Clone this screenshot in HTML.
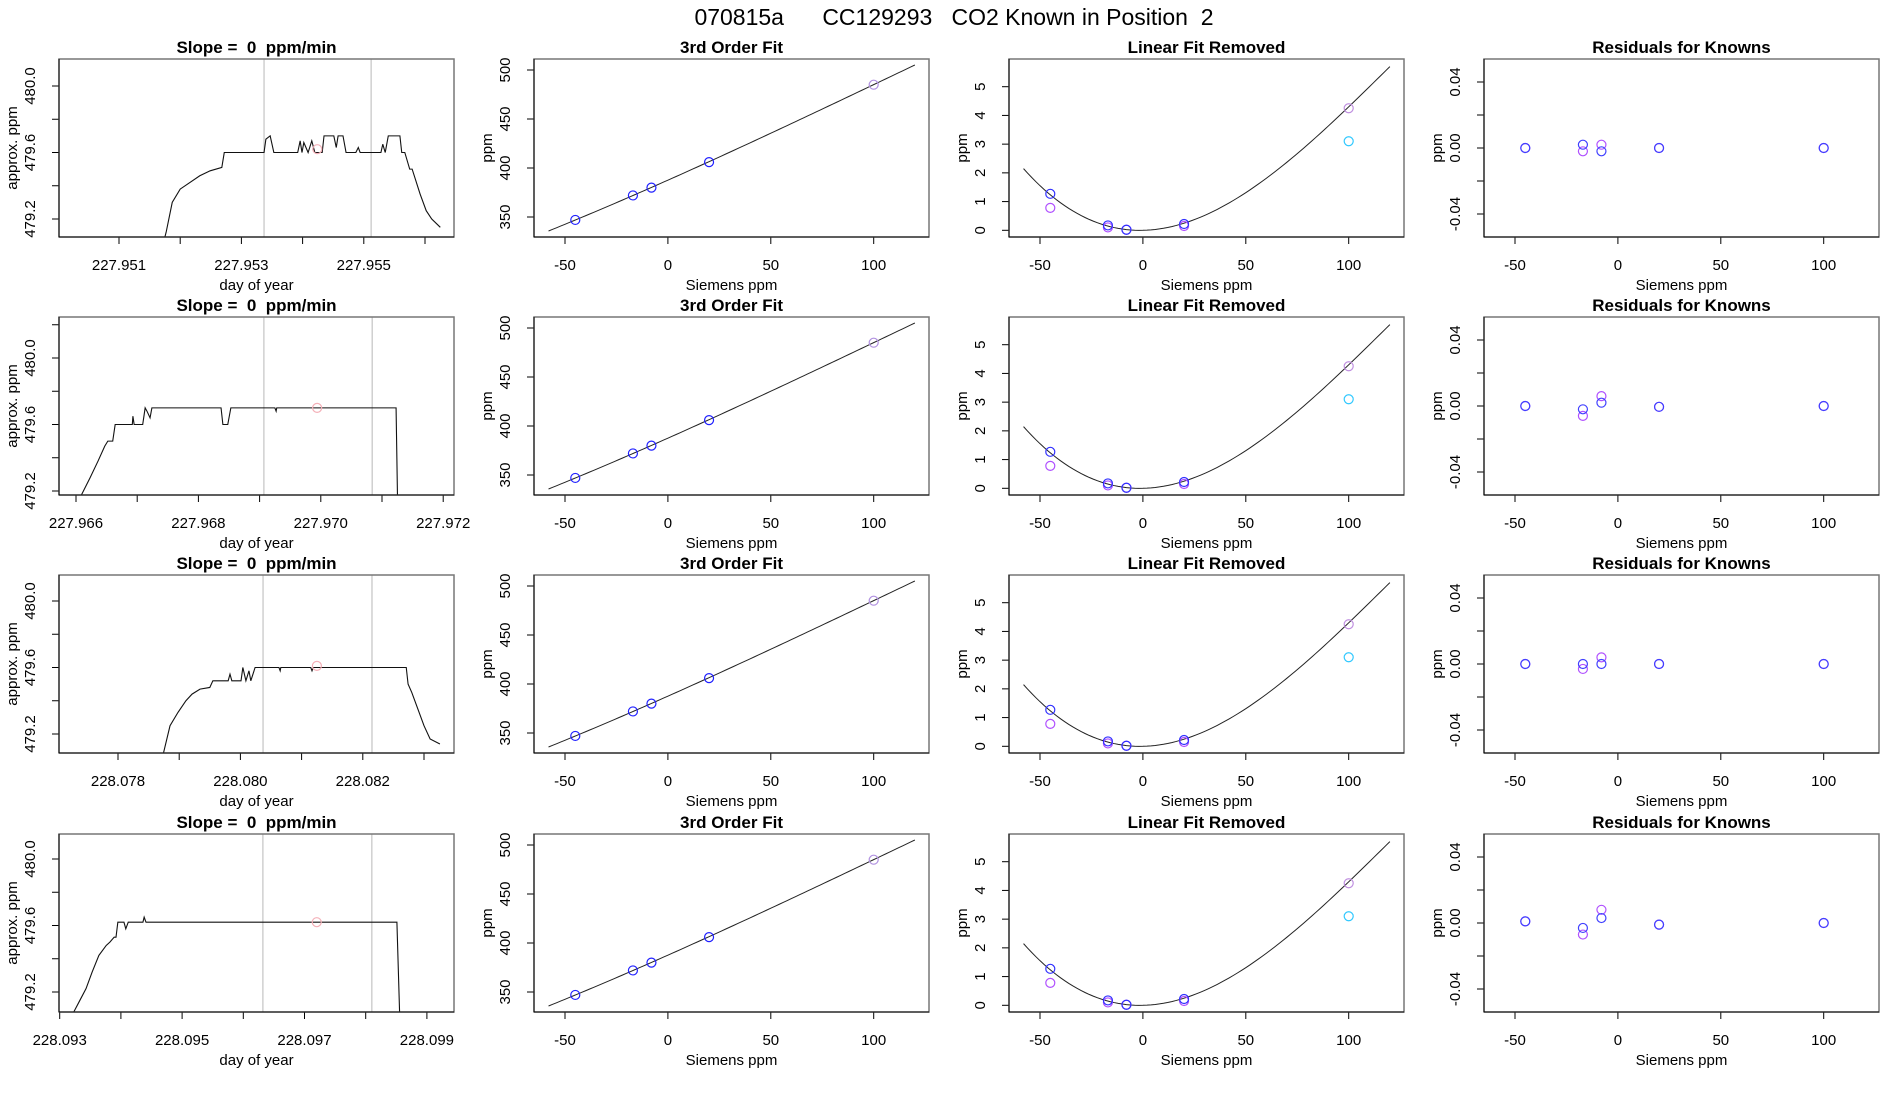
<!DOCTYPE html>
<html><head><meta charset="utf-8"><style>
html,body{margin:0;padding:0;background:#fff;}
svg{display:block;font-family:"Liberation Sans",sans-serif;}
svg text{white-space:pre;}
</style></head><body>
<svg id="chart" width="1900" height="1100" viewBox="0 0 1900 1100" xmlns="http://www.w3.org/2000/svg" xml:space="preserve">
<rect width="1900" height="1100" fill="#fff"/>
<text x="954" y="25" font-size="23" text-anchor="middle" fill="#000">070815a      CC129293   CO2 Known in Position  2</text>
</svg>
<script>
// ---- time-series data (per row) ----
const tsTimes1=[227.95172,227.95177,227.95187,227.95200,227.95216,227.95232,227.95249,227.95268,227.95272,227.95337,227.95340,227.95347,227.95353,227.95392,227.95396,227.95399,227.95402,227.95409,227.95415,227.95420,227.95432,227.95435,227.95451,227.95455,227.95458,227.95466,227.95471,227.95487,227.95491,227.95494,227.95528,227.95531,227.95535,227.95540,227.95559,227.95562,227.95567,227.95575,227.95579,227.95592,227.95602,227.95611,227.95625];
const tsVals1=[479.05,479.12,479.3,479.38,479.42,479.46,479.49,479.51,479.6,479.6,479.68,479.7,479.6,479.6,479.67,479.6,479.66,479.6,479.67,479.6,479.6,479.7,479.7,479.63,479.7,479.7,479.6,479.6,479.63,479.6,479.6,479.65,479.6,479.7,479.7,479.6,479.6,479.5,479.5,479.35,479.25,479.2,479.15];
const tsTimes2=[227.96605,227.96608,227.96623,227.96636,227.96647,227.96652,227.96660,227.96664,227.96692,227.96693,227.96695,227.96709,227.96713,227.96716,227.96721,227.96724,227.96837,227.96840,227.96848,227.96853,227.96925,227.96927,227.96928,227.97123,227.97126];
const tsVals2=[479.1,479.17,479.28,479.38,479.47,479.5,479.5,479.6,479.6,479.65,479.6,479.6,479.7,479.68,479.64,479.7,479.7,479.6,479.6,479.7,479.7,479.68,479.7,479.7,479.0];
const tsTimes3=[228.07872,228.07885,228.07898,228.07911,228.07921,228.07934,228.07950,228.07955,228.07980,228.07983,228.07986,228.08001,228.08004,228.08009,228.08014,228.08017,228.08024,228.08063,228.08065,228.08066,228.08115,228.08117,228.08119,228.08271,228.08274,228.08280,228.08290,228.08300,228.08310,228.08326];
const tsVals3=[479.05,479.25,479.33,479.4,479.44,479.47,479.48,479.52,479.52,479.56,479.52,479.52,479.6,479.52,479.58,479.52,479.6,479.6,479.58,479.6,479.6,479.58,479.6,479.6,479.5,479.45,479.35,479.25,479.17,479.14];
const tsTimes4=[228.09323,228.09333,228.09343,228.09353,228.09364,228.09376,228.09382,228.09389,228.09392,228.09395,228.09405,228.09408,228.09412,228.09436,228.09438,228.09441,228.09851,228.09856];
const tsVals4=[479.08,479.15,479.22,479.32,479.42,479.48,479.5,479.53,479.53,479.62,479.62,479.58,479.62,479.62,479.65,479.62,479.62,479.0];
const tsXTicks1=[227.951,227.953,227.955];
const tsXTicks2=[227.966,227.968,227.970,227.972];
const tsXTicks3=[228.078,228.080,228.082];
const tsXTicks4=[228.093,228.095,228.097,228.099];
const tsVLines1=[227.95337,227.95512];
const tsVLines2=[227.96907,227.97084];
const tsVLines3=[228.08037,228.08215];
const tsVLines4=[228.09632,228.09810];
const tsMarkT=[227.95424,227.96994,228.08125,228.0972];
const tsMarkV=[479.62,479.7,479.61,479.62];
const tsYTicks=[479.0,479.2,479.4,479.6,479.8,480.0,480.2,480.4];
// ---- calibration data ----
const knownX=[-45,-17,-8,20];
const knownPpm=[347,372,380,406];
const highX=[100];
const highPpm=[485];
const linX=[-45,-17,-8,20,100];
const linBlue=[1.27,0.17,0.02,0.22,null];
const linPurple=[0.78,0.10,0.02,0.15,4.25];
const linCyanX=[100];
const linCyan=[3.1];
const fitLinear=[387.6,0.9317];
const fitResidCoef=[0,0.00153,0.000573,-0.000001583];
const resX=[-45,-17,-8,20,100];
const resBlue1=[0,0.002,-0.002,0,0];
const resPurple1=[0,-0.002,0.002,0,0];
const resBlue2=[0,-0.002,0.002,-0.0005,0];
const resPurple2=[0,-0.006,0.006,-0.0005,0];
const resBlue3=[0,0,0,0,0];
const resPurple3=[0,-0.003,0.004,0,0];
const resBlue4=[0.001,-0.003,0.003,-0.001,0];
const resPurple4=[0.001,-0.007,0.008,-0.001,0];
const xTicksS=[-50,0,50,100];
const yTicksFit=[350,400,450,500];
const yTicksLin=[0,1,2,3,4,5];
const yTicksRes=[-0.04,-0.02,0,0.02,0.04];
const yLabelsRes=["-0.04","","0.00","","0.04"];

const NS="http://www.w3.org/2000/svg";
const svg=document.getElementById('chart');
function mk(tag,attrs,parent){const e=document.createElementNS(NS,tag);for(const k in attrs)e.setAttribute(k,attrs[k]);(parent||svg).appendChild(e);return e;}
const TOPS=[59,317,575,834];const W=395,H=178;
const tsAxis=[{t0:227.951,p0:119,v0:86},{t0:227.966,p0:76,v0:358},{t0:228.078,p0:118,v0:601},{t0:228.093,p0:59.7,v0:859}];
const tsTimes=[tsTimes1,tsTimes2,tsTimes3,tsTimes4],tsVals=[tsVals1,tsVals2,tsVals3,tsVals4];
const tsXT=[tsXTicks1,tsXTicks2,tsXTicks3,tsXTicks4],tsVL=[tsVLines1,tsVLines2,tsVLines3,tsVLines4];
const resB=[resBlue1,resBlue2,resBlue3,resBlue4],resP=[resPurple1,resPurple2,resPurple3,resPurple4];
const titles=["Slope =  0  ppm/min","3rd Order Fit","Linear Fit Removed","Residuals for Knowns"];

function panel(row,col,xs,ys,xdom,ydom,opts){
  const L=59+col*475,T=TOPS[row];
  const g=mk('g',{});
  
  
  const clipId='c'+row+col;
  const cp=mk('clipPath',{id:clipId},g);mk('rect',{x:L,y:T,width:W,height:H},cp);
  const sx=v=>L+(v-xdom[0])/(xdom[1]-xdom[0])*W;
  const sy=v=>T+H-(v-ydom[0])/(ydom[1]-ydom[0])*H;
  const t=mk('text',{x:L+W/2,y:T-6,'font-size':17,'font-weight':'bold','text-anchor':'middle'},g);t.textContent=titles[col];
  
  
  const plot=mk('g',{'clip-path':'url(#'+clipId+')'},g);
  xs.ticks.forEach((v,i)=>{const x=sx(v);if(x<L-0.5||x>L+W+0.5)return;
    mk('line',{x1:x,y1:T+H,x2:x,y2:T+H+7,stroke:'#000'},g);
    if(xs.labels[i]!==''){const tx=mk('text',{x:x,y:T+H+33,'font-size':15,'text-anchor':'middle'},g);tx.textContent=xs.labels[i];
      
      }
  });
  ys.ticks.forEach((v,i)=>{const y=sy(v);if(y<T-0.5||y>T+H+0.5)return;
    mk('line',{x1:L-7,y1:y,x2:L,y2:y,stroke:'#000'},g);
    if(ys.labels[i]!==''){const ty=mk('text',{x:L-24,y:y,'font-size':15,'text-anchor':'middle',transform:'rotate(-90 '+(L-24)+' '+y+')'},g);ty.textContent=ys.labels[i];
      
      }
  });
  const xl=mk('text',{x:L+W/2,y:T+H+53,'font-size':15,'text-anchor':'middle'},g);xl.textContent=opts.xlab;
  
  
  const yl=mk('text',{x:L-42,y:T+H/2,'font-size':15,'text-anchor':'middle',transform:'rotate(-90 '+(L-42)+' '+(T+H/2)+')'},g);yl.textContent=opts.ylab;
  
  
  opts.draw(plot,sx,sy);
  mk('rect',{x:L,y:T,width:W,height:H,fill:'none',stroke:'#777','stroke-width':1.5},g);
  mk('line',{x1:L,y1:T+H,x2:L+W,y2:T+H,stroke:'#000'},g);
  mk('line',{x1:L,y1:T,x2:L,y2:T+H,stroke:'#000'},g);
}
function circ(p,x,y,c,name){const e=mk('circle',{cx:x,cy:y,r:4.5,fill:'none',stroke:c,'stroke-width':1.2},p);
  
  }
const fitRes=x=>fitResidCoef[0]+fitResidCoef[1]*x+fitResidCoef[2]*x*x+fitResidCoef[3]*x*x*x;
const sXdom=[-50-31/2.058,100+55.3/2.058];

for(let r=0;r<4;r++){
  const ax=tsAxis[r];const pxPerDay=61200,pxPerPpm=166.25;const L=59,T=TOPS[r];
  const xdom=[ax.t0-(ax.p0-L)/pxPerDay,ax.t0+(L+W-ax.p0)/pxPerDay];
  const ydom=[480-(T+H-ax.v0)/pxPerPpm,480+(ax.v0-T)/pxPerPpm];
  const xt=[];const xl=[];
  for(let k=-3;k<=10;k++){const v=tsXT[r][0]+k*0.001;xt.push(v);xl.push(tsXT[r].some(q=>Math.abs(q-v)<1e-7)?v.toFixed(3):'');}
  panel(r,0,{ticks:xt,labels:xl},{ticks:tsYTicks,labels:tsYTicks.map(v=>[479.2,479.6,480.0].some(q=>Math.abs(q-v)<1e-6)?v.toFixed(1):'')},xdom,ydom,{xlab:'day of year',ylab:'approx. ppm',draw:(p,sx,sy)=>{
    tsVL[r].forEach(v=>{const l=mk('line',{x1:sx(v),y1:T,x2:sx(v),y2:T+H,stroke:'#c8c8c8','stroke-width':1.3},p);
      
      });
    const pl=mk('polyline',{points:tsTimes[r].map((t,i)=>sx(t)+','+sy(tsVals[r][i])).join(' '),fill:'none',stroke:'#111','stroke-width':1.1},p);
    
    
    circ(p,sx(tsMarkT[r]),sy(tsMarkV[r]),'#f4b0b8','mean-marker');
  }});
  panel(r,1,{ticks:xTicksS,labels:xTicksS.map(String)},{ticks:yTicksFit,labels:yTicksFit.map(String)},sXdom,[350-20/0.98,500+11/0.98],{xlab:'Siemens ppm',ylab:'ppm',draw:(p,sx,sy)=>{
    const pts=[];for(let x=-58;x<=120;x+=2)pts.push(sx(x)+','+sy(fitLinear[0]+fitLinear[1]*x+fitRes(x)));
    const pl=mk('polyline',{points:pts.join(' '),fill:'none',stroke:'#222','stroke-width':1},p);
    
    
    knownX.forEach((x,i)=>circ(p,sx(x),sy(knownPpm[i]),'#2020ff','known-point'));
    highX.forEach((x,i)=>circ(p,sx(x),sy(highPpm[i]),'#b090e0','high-point'));
  }});
  panel(r,2,{ticks:xTicksS,labels:xTicksS.map(String)},{ticks:yTicksLin,labels:yTicksLin.map(String)},sXdom,[-6.7/28.72,5+(86.7-59)/28.72],{xlab:'Siemens ppm',ylab:'ppm',draw:(p,sx,sy)=>{
    const pts=[];for(let x=-58;x<=120;x+=2)pts.push(sx(x)+','+sy(fitRes(x)));
    const pl=mk('polyline',{points:pts.join(' '),fill:'none',stroke:'#222','stroke-width':1},p);
    
    
    linX.forEach((x,i)=>{if(linPurple[i]!==null)circ(p,sx(x),sy(linPurple[i]),x===100?'#c090e0':'#b050ff','purple-point');});
    linX.forEach((x,i)=>{if(linBlue[i]!==null)circ(p,sx(x),sy(linBlue[i]),'#3030ff','blue-point');});
    linCyanX.forEach((x,i)=>circ(p,sx(x),sy(linCyan[i]),'#30c8ff','cyan-point'));
  }});
  panel(r,3,{ticks:xTicksS,labels:xTicksS.map(String)},{ticks:yTicksRes,labels:yLabelsRes},sXdom,[-0.04-23/1650,0.04+23/1650],{xlab:'Siemens ppm',ylab:'ppm',draw:(p,sx,sy)=>{
    resX.forEach((x,i)=>circ(p,sx(x),sy(resP[r][i]),'#b050ff','residual-purple'));
    resX.forEach((x,i)=>circ(p,sx(x),sy(resB[r][i]),'#4040ff','residual-blue'));
  }});
}
</script>
</body></html>
